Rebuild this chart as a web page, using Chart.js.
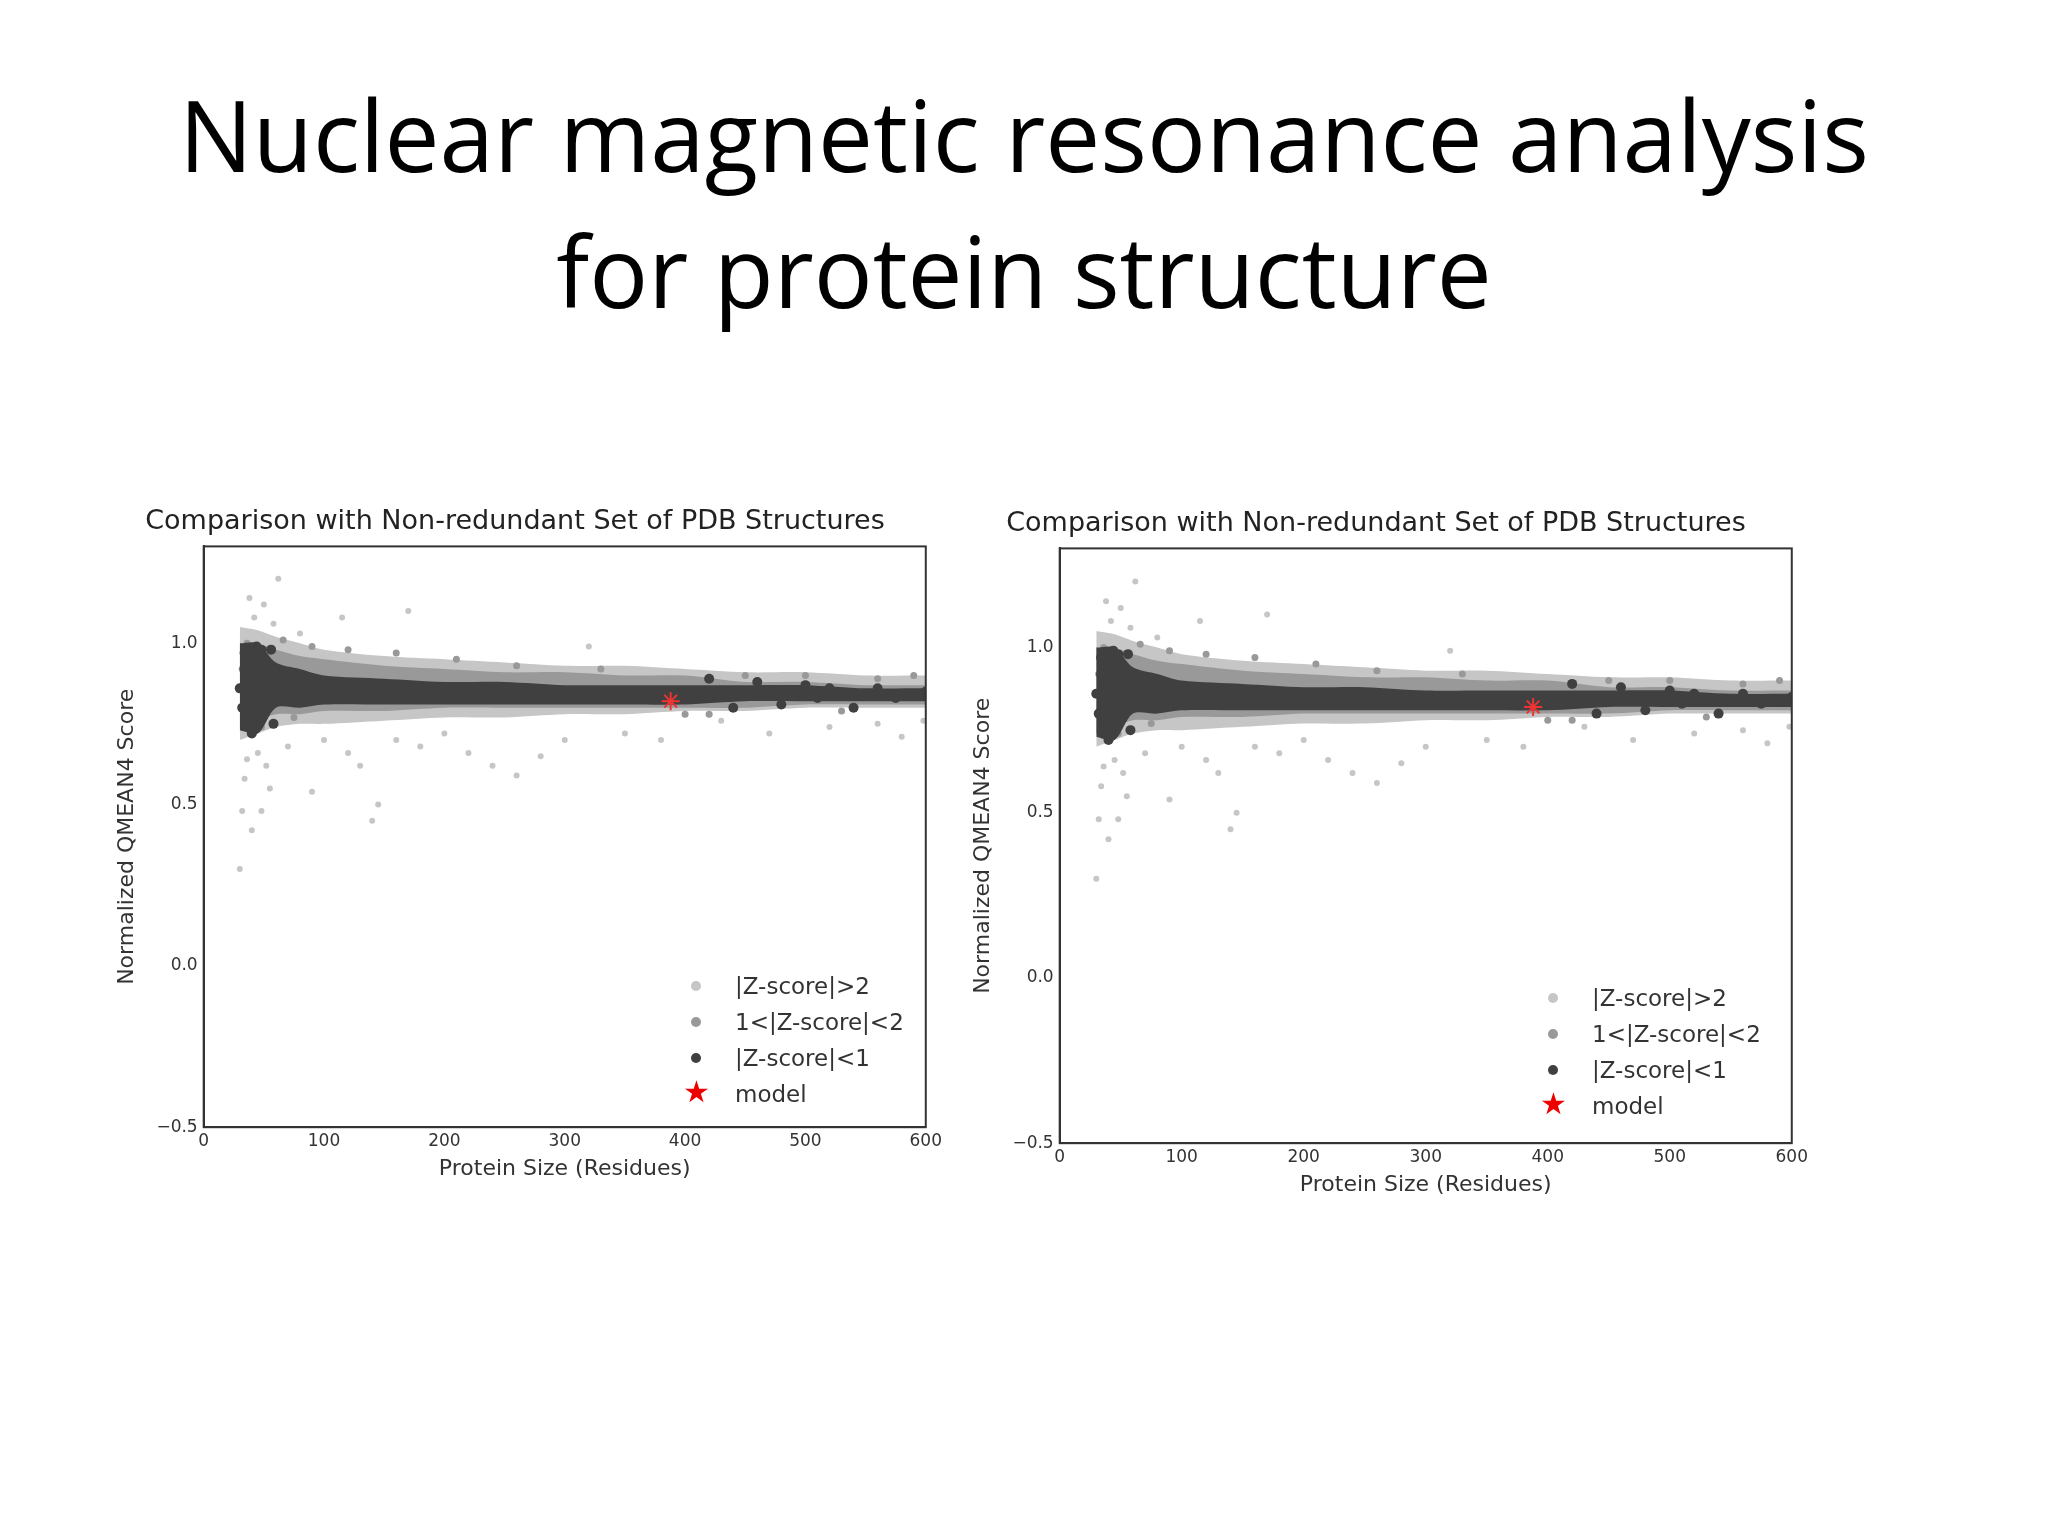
<!DOCTYPE html>
<html>
<head>
<meta charset="utf-8">
<script src="https://cdn.jsdelivr.net/npm/chart.js@4.4.0/dist/chart.umd.min.js"></script>
<style>
  body { margin: 0; width: 2048px; height: 1536px; background: #fff; position: relative; overflow: hidden; }
  #title { position: absolute; top: 66px; left: 0; width: 2048px; text-align: center;
           font-family: "Open Sans", sans-serif; font-size: 98px; line-height: 136px; color: #000; }
  .box { position: absolute; }
  .legend { position: absolute; font-family: "DejaVu Sans", sans-serif; font-size: 23px; color: #333; }
  .legend div { height: 36px; line-height: 36px; position: relative; padding-left: 52px; }
  .legend span.dot { position: absolute; left: 8px; top: 13px; width: 10px; height: 10px; border-radius: 5px; }
  .legend span.star { position: absolute; left: 0; top: -2px; font-size: 30px; color: #e00; }
</style>
</head>
<body>
<div id="title">Nuclear magnetic resonance analysis<br>for protein structure</div>
<div class="box" style="left:104px; top:506px; width:842px; height:676px;"><canvas id="c1"></canvas></div>
<div class="box" style="left:960px; top:508px; width:852px; height:690px;"><canvas id="c2"></canvas></div>
<div class="legend" style="left:683px; top:968px;" id="lg1"></div>
<div class="legend" style="left:1540px; top:980px;" id="lg2"></div>
<script>
// --- Data ---
const bandX = [30, 45, 60, 80, 100, 150, 200, 250, 300, 350, 400, 450, 500, 550, 600];
const lightUpper = [1.05, 1.04, 1.02, 1.00, 0.98, 0.96, 0.95, 0.94, 0.93, 0.93, 0.92, 0.91, 0.91, 0.90, 0.90];
const lightLower = [0.70, 0.72, 0.74, 0.75, 0.75, 0.76, 0.77, 0.77, 0.78, 0.78, 0.79, 0.79, 0.80, 0.80, 0.80];
const midUpper   = [1.00, 0.99, 0.98, 0.96, 0.95, 0.93, 0.92, 0.91, 0.91, 0.90, 0.90, 0.88, 0.88, 0.87, 0.87];
const midLower   = [0.74, 0.76, 0.78, 0.78, 0.79, 0.79, 0.80, 0.80, 0.80, 0.80, 0.80, 0.80, 0.81, 0.81, 0.81];
const darkUpper  = [1.00, 1.00, 0.94, 0.92, 0.90, 0.89, 0.88, 0.88, 0.87, 0.87, 0.87, 0.87, 0.87, 0.86, 0.86];
const darkLower  = [0.73, 0.72, 0.80, 0.80, 0.81, 0.81, 0.81, 0.81, 0.81, 0.81, 0.81, 0.82, 0.82, 0.82, 0.82];

const lightPts = [
  [30, 0.30], [32, 0.48], [34, 0.58], [36, 0.64], [38, 1.14], [40, 0.42], [42, 1.08], [45, 0.66],
  [48, 0.48], [50, 1.12], [52, 0.62], [55, 0.55], [58, 1.06], [62, 1.20], [70, 0.68], [80, 1.03],
  [90, 0.54], [100, 0.70], [115, 1.08], [120, 0.66], [130, 0.62], [140, 0.45], [145, 0.50],
  [160, 0.70], [170, 1.10], [180, 0.68], [200, 0.72], [220, 0.66], [240, 0.62], [260, 0.59],
  [280, 0.65], [300, 0.70], [320, 0.99], [350, 0.72], [380, 0.70], [430, 0.76], [470, 0.72],
  [520, 0.74], [560, 0.75], [580, 0.71], [598, 0.76]
];
const midPts = [
  [32, 0.92], [36, 1.00], [40, 0.88], [44, 0.96], [48, 0.74], [52, 0.98], [66, 1.01],
  [75, 0.77], [90, 0.99], [120, 0.98], [160, 0.97], [210, 0.95], [260, 0.93], [330, 0.92],
  [400, 0.78], [420, 0.78], [450, 0.90], [500, 0.90], [530, 0.79], [560, 0.89], [590, 0.90]
];
const darkPts = [
  [30, 0.86], [32, 0.80], [34, 0.92], [36, 0.76], [38, 0.88], [40, 0.84], [42, 0.95], [44, 0.78],
  [46, 0.90], [48, 0.98], [50, 0.82], [52, 0.94], [54, 0.86], [56, 0.98], [58, 0.75], [34, 0.97],
  [40, 0.72], [44, 0.99], [420, 0.89], [440, 0.80], [460, 0.88], [480, 0.81], [500, 0.87],
  [520, 0.86], [540, 0.80], [560, 0.86], [575, 0.83], [590, 0.84], [600, 0.85], [510, 0.83]
];
const modelPt = [[388, 0.82]];
const xTicks = [0, 100, 200, 300, 400, 500, 600];
const yTicks = [-0.5, 0.0, 0.5, 1.0];

const LIGHT = '#c6c6c6', MID = '#999999', DARK = '#404040';

function band(upper, lower, color, order) {
  return [
    { type: 'line', order, data: bandX.map((x, i) => ({ x, y: upper[i] })), borderWidth: 0, pointRadius: 0,
      backgroundColor: color, fill: '+1', tension: 0.3 },
    { type: 'line', order, data: bandX.map((x, i) => ({ x, y: lower[i] })), borderWidth: 0, pointRadius: 0,
      backgroundColor: color, fill: false, tension: 0.3 }
  ];
}
function pts(list, color, r, order) {
  return { type: 'scatter', order, data: list.map(p => ({ x: p[0], y: p[1] })), backgroundColor: color,
           borderWidth: 0, pointRadius: r };
}

function makeChart(id, titleText) {
  const font = { family: "'DejaVu Sans', sans-serif" };
  new Chart(document.getElementById(id), {
    data: {
      datasets: [
        pts(lightPts, LIGHT, 3, 9),
        ...band(lightUpper, lightLower, LIGHT, 8),
        pts(midPts, MID, 3.5, 7),
        ...band(midUpper, midLower, MID, 6),
        ...band(darkUpper, darkLower, DARK, 5),
        pts(darkPts, DARK, 5, 4),
        { type: 'scatter', order: 1, data: modelPt.map(p => ({ x: p[0], y: p[1] })), pointStyle: 'star',
          pointRadius: 9, borderColor: '#e33', borderWidth: 2, backgroundColor: '#e33' }
      ]
    },
    options: {
      responsive: true, maintainAspectRatio: false, animation: false,
      layout: { padding: { right: 20, top: 0 } },
      plugins: {
        legend: { display: false }, tooltip: { enabled: false },
        title: { display: true, text: titleText, color: '#222', font: { ...font, size: 27, weight: 'normal' }, padding: { bottom: 8 } }
      },
      scales: {
        x: { type: 'linear', min: 0, max: 600, grid: { display: false, drawTicks: false },
             border: { color: '#333', width: 2 },
             afterBuildTicks: a => { a.ticks = xTicks.map(v => ({ value: v })); },
             ticks: { color: '#333', font: { ...font, size: 17 }, padding: 4 },
             title: { display: true, text: 'Protein Size (Residues)', color: '#333', font: { ...font, size: 22 }, padding: 0 } },
        y: { type: 'linear', min: -0.5, max: 1.3, grid: { display: false, drawTicks: false },
             border: { color: '#333', width: 2 },
             afterBuildTicks: a => { a.ticks = yTicks.map(v => ({ value: v })); },
             ticks: { color: '#333', font: { ...font, size: 17 }, padding: 6,
                      callback: v => (v < 0 ? '\u22120.5' : v.toFixed(1)) },
             title: { display: true, text: 'Normalized QMEAN4 Score', color: '#333', font: { ...font, size: 22 }, padding: 10 } }
      }
    },
    plugins: [{
      id: 'frame',
      afterDraw(c) {
        const a = c.chartArea, ctx = c.ctx;
        ctx.save(); ctx.strokeStyle = '#333'; ctx.lineWidth = 2;
        ctx.strokeRect(a.left, a.top, a.right - a.left, a.bottom - a.top); ctx.restore();
      }
    }]
  });
}

function makeLegend(id) {
  const items = [['dot', LIGHT, '|Z-score|>2'], ['dot', MID, '1<|Z-score|<2'], ['dot', DARK, '|Z-score|<1'], ['star', '#e00', 'model']];
  document.getElementById(id).innerHTML = items.map(it => it[0] === 'dot'
    ? `<div><span class="dot" style="background:${it[1]}"></span>${it[2]}</div>`
    : `<div><span class="star">\u2605</span>${it[2]}</div>`).join('');
}

makeChart('c1', 'Comparison with Non-redundant Set of PDB Structures');
makeChart('c2', 'Comparison with Non-redundant Set of PDB Structures');
makeLegend('lg1');
makeLegend('lg2');
</script>
</body>
</html>
